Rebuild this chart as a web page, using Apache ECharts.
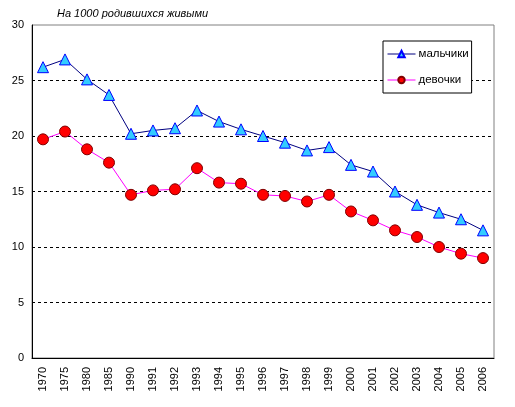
<!DOCTYPE html>
<html><head><meta charset="utf-8">
<script src="https://cdn.jsdelivr.net/npm/echarts@6/dist/echarts.min.js"></script>
<style>html,body{margin:0;padding:0;background:#fff}#c{width:515px;height:407px}</style>
</head><body><div id="c"></div>
<script>
const years = ['1970','1975','1980','1985','1990','1991','1992','1993','1994','1995','1996','1997','1998','1999','2000','2001','2002','2003','2004','2005','2006'];
const boys = [26.2,26.9,25.1,23.7,20.2,20.5,20.7,22.3,21.3,20.6,20.0,19.4,18.7,19.0,17.4,16.8,15.0,13.8,13.1,12.5,11.5];
const girls = [19.7,20.4,18.8,17.6,14.7,15.1,15.2,17.1,15.8,15.7,14.7,14.6,14.1,14.7,13.2,12.4,11.5,10.9,10.0,9.4,9.0];
const yTicks = [0,5,10,15,20,25,30];
const titleText = 'На 1000 родившихся живыми';
const seriesNames = ['мальчики','девочки'];

const chart = echarts.init(document.getElementById('c'));
chart.setOption({
  animation:false,
  backgroundColor:'#fff',
  title:{text:titleText,left:52,top:3,textStyle:{fontFamily:'Liberation Sans',fontSize:11,fontStyle:'italic',fontWeight:'normal',color:'#000'}},
  legend:{
    orient:'vertical',left:383,top:41,
    data:seriesNames,
    backgroundColor:'#fff',borderColor:'#000',borderWidth:1,
    padding:[7,3,7,4],itemGap:14,itemWidth:28,itemHeight:8,
    lineStyle:{width:1},
    textStyle:{fontFamily:'Liberation Sans',fontSize:11.5,color:'#000',padding:[0,0,0,-2]}
  },
  grid:{left:32,right:21,top:25,bottom:49,show:true,borderColor:'#808080',borderWidth:1,backgroundColor:'#fff'},
  xAxis:{type:'category',data:years,boundaryGap:true,
    axisLine:{lineStyle:{color:'#000',width:1}},axisTick:{show:false},
    axisLabel:{rotate:90,margin:9,fontFamily:'Liberation Sans',fontSize:11,color:'#000',interval:0}},
  yAxis:{type:'value',min:yTicks[0],max:yTicks[yTicks.length-1],interval:5,
    axisLine:{show:true,lineStyle:{color:'#000',width:1}},axisTick:{show:false},
    axisLabel:{margin:8,fontFamily:'Liberation Sans',fontSize:11,color:'#000'},
    splitLine:{show:true,showMaxLine:false,showMinLine:false,lineStyle:{color:'#000',type:[3,3],width:1}}},
  series:[
    {name:seriesNames[0],type:'line',data:boys,symbol:'triangle',symbolSize:11,
      lineStyle:{color:'#000080',width:1},
      itemStyle:{color:'#33CCFF',borderColor:'#0000FF',borderWidth:1}},
    {name:seriesNames[1],type:'line',data:girls,symbol:'circle',symbolSize:11,
      lineStyle:{color:'#FF00FF',width:1},
      itemStyle:{color:'#FF0000',borderColor:'#800000',borderWidth:1}}
  ]
});
</script></body></html>
